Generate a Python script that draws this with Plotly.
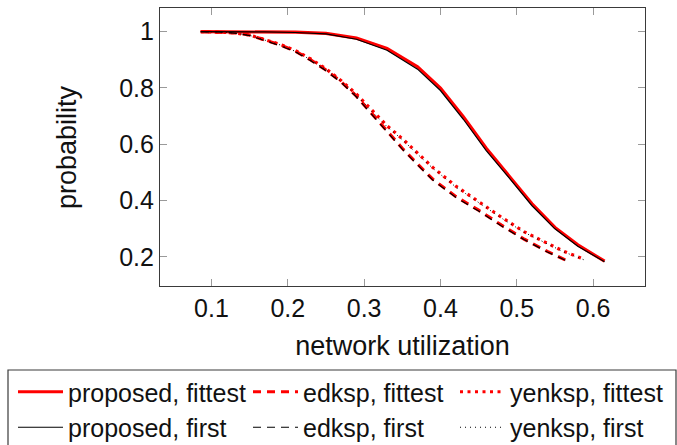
import plotly.graph_objects as go

# network utilization (x) and probability (y)
prop_x = [0.086, 0.13, 0.17, 0.21, 0.25, 0.29, 0.33, 0.37, 0.40, 0.43, 0.46, 0.49, 0.52, 0.55, 0.58, 0.615]
prop_fittest = [1.0, 1.0, 0.999, 0.998, 0.994, 0.977, 0.940, 0.875, 0.800, 0.698, 0.586, 0.489, 0.389, 0.305, 0.243, 0.185]
prop_first = [1.0, 1.0, 0.999, 0.997, 0.992, 0.973, 0.934, 0.867, 0.791, 0.689, 0.578, 0.481, 0.382, 0.300, 0.238, 0.183]

edk_x = [0.086, 0.11, 0.13, 0.15, 0.17, 0.19, 0.21, 0.23, 0.25, 0.27, 0.29, 0.31, 0.33, 0.35, 0.37, 0.39, 0.42, 0.45, 0.48, 0.51, 0.54, 0.567]
edk_fittest = [1.0, 0.999, 0.996, 0.988, 0.970, 0.953, 0.931, 0.900, 0.864, 0.822, 0.771, 0.710, 0.646, 0.586, 0.530, 0.476, 0.415, 0.366, 0.313, 0.263, 0.220, 0.185]
edk_first = [1.0, 0.999, 0.995, 0.986, 0.968, 0.950, 0.928, 0.897, 0.861, 0.819, 0.768, 0.707, 0.643, 0.583, 0.527, 0.473, 0.412, 0.363, 0.310, 0.261, 0.218, 0.184]

yen_x = [0.086, 0.11, 0.13, 0.15, 0.17, 0.19, 0.21, 0.23, 0.25, 0.27, 0.29, 0.31, 0.33, 0.35, 0.37, 0.39, 0.42, 0.45, 0.48, 0.51, 0.54, 0.56, 0.588]
yen_fittest = [1.0, 0.999, 0.996, 0.988, 0.972, 0.955, 0.933, 0.903, 0.868, 0.826, 0.778, 0.720, 0.666, 0.620, 0.568, 0.518, 0.452, 0.396, 0.341, 0.289, 0.249, 0.222, 0.192]
yen_first = [1.0, 0.999, 0.995, 0.987, 0.970, 0.953, 0.930, 0.900, 0.865, 0.823, 0.775, 0.717, 0.663, 0.617, 0.565, 0.515, 0.449, 0.393, 0.338, 0.287, 0.247, 0.220, 0.190]

x_ticks = [0.1, 0.2, 0.3, 0.4, 0.5, 0.6]
x_tick_labels = ["0.1", "0.2", "0.3", "0.4", "0.5", "0.6"]
y_ticks = [0.2, 0.4, 0.6, 0.8, 1.0]
y_tick_labels = ["0.2", "0.4", "0.6", "0.8", "1"]

FONT = "Liberation Sans"
W, H = 677, 445
ML, MR, MT, MB = 160, 32, 8, 159

# (name, x, y, colour, width, dash, legend column)
series = [
    ("proposed, fittest", prop_x, prop_fittest, "#ff0000", 3.2, "solid", "legend"),
    ("edksp, fittest", edk_x, edk_fittest, "#ff0000", 3.2, "8px,6px", "legend2"),
    ("yenksp, fittest", yen_x, yen_fittest, "#ff0000", 3.2, "3px,4.5px", "legend3"),
    ("proposed, first", prop_x, prop_first, "#000000", 1.2, "solid", "legend"),
    ("edksp, first", edk_x, edk_first, "#000000", 1.2, "8px,6px", "legend2"),
    ("yenksp, first", yen_x, yen_first, "#000000", 1.0, "1px,4px", "legend3"),
]

fig = go.Figure()
for name, xs, ys, color, width, dash, leg in series:
    fig.add_trace(go.Scatter(x=xs, y=ys, mode="lines", name=name, legend=leg,
                             line=dict(color=color, width=width, dash=dash)))

axis_common = dict(
    showgrid=False, zeroline=False, showline=True, linecolor="#3a3a3a", linewidth=1.2,
    mirror="allticks", ticks="inside", ticklen=7, tickcolor="#9a9a9a", tickwidth=1,
    tickfont=dict(family=FONT, size=25, color="#111111"), automargin=False,
)


def legend_box(left_px):
    return dict(
        orientation="v", xref="container", yref="container",
        x=left_px / W, y=1 - 369 / H, xanchor="left", yanchor="top",
        borderwidth=0, bgcolor="rgba(0,0,0,0)",
        font=dict(family=FONT, size=25, color="#111111"),
        itemwidth=45, traceorder="normal", tracegroupgap=0,
    )


pw = W - ML - MR
ph = H - MT - MB

fig.update_layout(
    width=W, height=H,
    margin=dict(l=ML, r=MR, t=MT, b=MB, autoexpand=False),
    paper_bgcolor="white", plot_bgcolor="white",
    font=dict(family=FONT, size=25, color="#111111"),
    xaxis=dict(range=[0.0326, 0.668], tickvals=x_ticks, ticktext=x_tick_labels,
               title=dict(text="network utilization", font=dict(family=FONT, size=27)),
               **axis_common),
    yaxis=dict(range=[0.097, 1.084], tickvals=y_ticks, ticktext=y_tick_labels,
               **axis_common),
    legend=legend_box(13),
    legend2=legend_box(248),
    legend3=legend_box(455),
    showlegend=True,
)

# y-axis title
fig.add_annotation(text="probability", xref="paper", yref="paper",
                   x=(67 - ML) / pw, y=0.5, xanchor="center", yanchor="middle",
                   textangle=-90, showarrow=False,
                   font=dict(family=FONT, size=27, color="#111111"))

# frame around the three legend columns
fig.add_shape(type="rect", xref="paper", yref="paper",
              x0=(8 - ML) / pw, x1=(676 - ML) / pw,
              y0=(H - MB - 370) / ph, y1=(H - MB - 460) / ph,
              line=dict(color="#3a3a3a", width=1.2), fillcolor="rgba(0,0,0,0)",
              layer="above")

fig.write_html("out.html", config={"displayModeBar": False},
               post_script="document.body.style.margin='0px';")
